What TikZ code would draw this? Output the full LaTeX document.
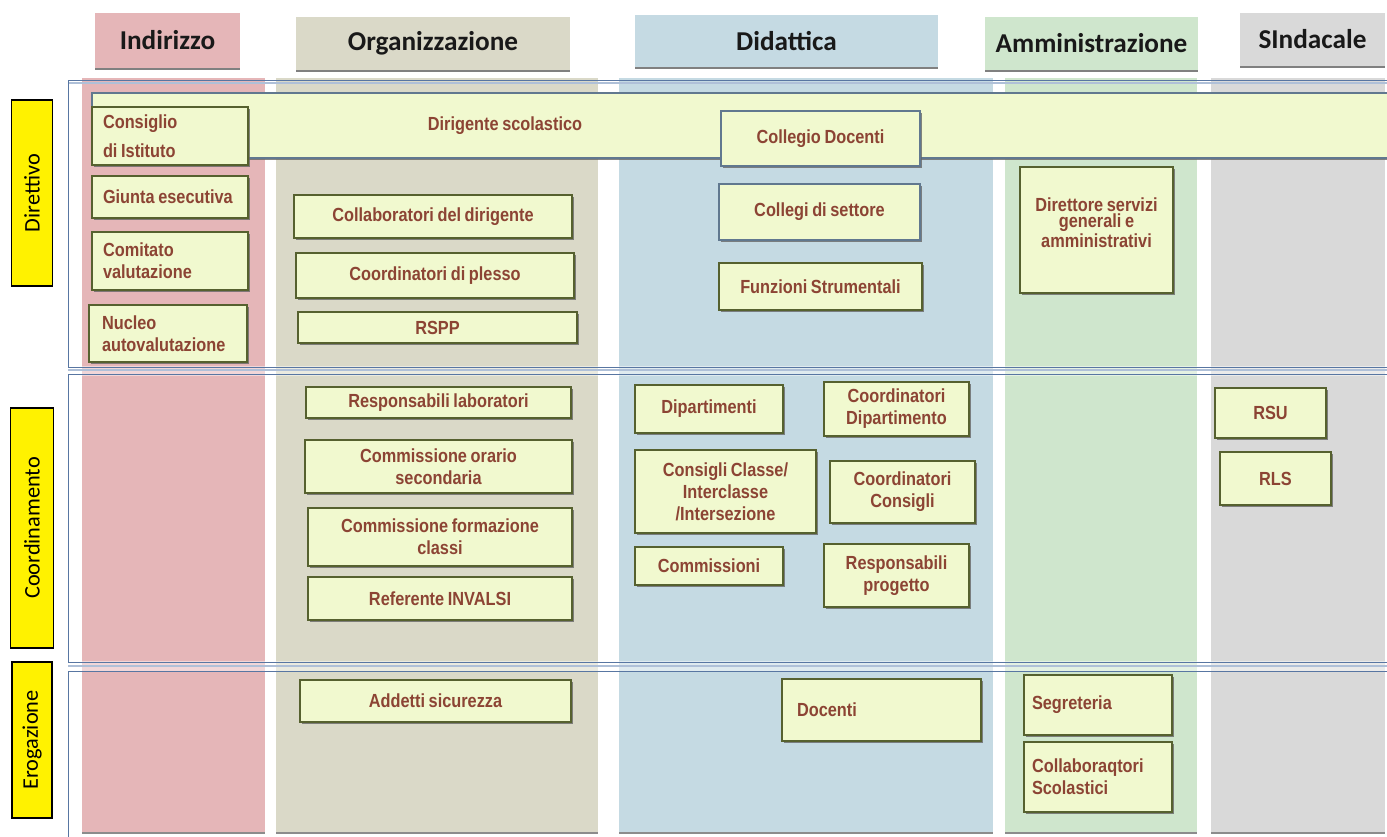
\documentclass[tikz,border=0pt]{standalone}
\usepackage{fontspec}
\setmainfont{Liberation Sans}
\newfontfamily\narrowfont[FakeStretch=0.86, WordSpace=0.8]{Liberation Sans}
\newfontfamily\headfont{Carlito}
\usepackage{tikz}
\usetikzlibrary{shapes,arrows,positioning,shadows}
\usepackage{color}

\definecolor{indirizzo}{HTML}{E5B6B8}
\definecolor{organizz}{HTML}{DAD9C8}
\definecolor{didattica}{HTML}{C5DAE3}
\definecolor{ammin}{HTML}{CFE6CD}
\definecolor{sindacale}{HTML}{D9D9D9}
\definecolor{boxfill}{HTML}{F1F9CF}
\definecolor{boxline}{HTML}{56612F}
\definecolor{bandline}{HTML}{61788F}
\definecolor{boxtext}{HTML}{8C4434}
\definecolor{frameline}{HTML}{5876A2}
\definecolor{framelight}{HTML}{AFC0D8}

\tikzset{
  stripe/.style={drop shadow={shadow xshift=0pt, shadow yshift=-1.2pt, fill=black!45, opacity=1}},
  header/.style={rectangle, inner sep=0pt, text=black!90,
    font=\headfont\bfseries\fontsize{15.5}{18}\selectfont,
    drop shadow={shadow xshift=0pt, shadow yshift=-1.4pt, fill=black!50, opacity=1}},
  level/.style={rectangle, draw=black, line width=0.9pt, fill=yellow, rotate=90,
    inner sep=0pt, font=\headfont\fontsize{12.7}{15}\selectfont},
  box/.style={rectangle, draw=boxline, line width=0.8pt, fill=boxfill, inner sep=0pt,
    text=boxtext, align=center, font=\narrowfont\bfseries\fontsize{10.8}{12.6}\selectfont,
    drop shadow={shadow xshift=1.1pt, shadow yshift=-1.1pt, fill=black!60, opacity=0.8}},
  leftbox/.style={box, align=flush left},
  boxlabel/.style={text=boxtext, inner sep=0pt, align=center,
    font=\narrowfont\bfseries\fontsize{10.8}{12.6}\selectfont},
  frame/.style={draw=frameline, line width=0.5pt},
  seam/.style={draw=framelight, line width=0.8pt},
}

\begin{document}
\begin{tikzpicture}[x=0.02cm, y=-0.02cm]
                   % Sizes
                   \pgfmathsetmacro{\edge}{1400}
                   \useasboundingbox (0,0) rectangle (1387,837);

                   % stripes
                   \fill[stripe, indirizzo] (82,78) rectangle (265,832);
                   \fill[stripe, organizz] (276,78) rectangle (598,832);
                   \fill[stripe, didattica] (619,78) rectangle (993,832);
                   \fill[stripe, ammin] (1005,78) rectangle (1197,832);
                   \fill[stripe, sindacale] (1211,78) rectangle (1385,832);

                   % frames
                   \fill[white, opacity=0.45] (68,366) rectangle (\edge,376);
                   \fill[white, opacity=0.45] (68,661) rectangle (\edge,672);
                   \draw[seam] (68,83) -- (\edge,83);
                   \draw[seam] (68,370) -- (\edge,370);
                   \draw[seam] (68,666) -- (\edge,666);
                   \draw[frame] (68,80) rectangle (\edge,367);
                   \draw[frame] (68,374) rectangle (\edge,662);
                   \draw[frame] (68,671) rectangle (\edge,870);

                   % headers
                   \node[header, fill=indirizzo, minimum width=2.9cm, minimum height=1.1cm] (hind) at (167.5,40.5) {Indirizzo};
                   \node[header, fill=organizz, minimum width=5.48cm, minimum height=1.06cm] (horg) at (433,43.5) {Organizzazione};
                   \node[header, fill=didattica, minimum width=6.06cm, minimum height=1.04cm] (hdid) at (786.5,41) {Didattica};
                   \node[header, fill=ammin, minimum width=4.26cm, minimum height=1.06cm] (hamm) at (1091.5,43.5) {Amministrazione};
                   \node[header, fill=sindacale, minimum width=2.9cm, minimum height=1.06cm] (hsin) at (1312.5,39.5) {SIndacale};

                   % levels
                   \node[level, minimum width=3.72cm, minimum height=0.82cm] (ldir) at (32,193) {Direttivo};
                   \node[level, minimum width=4.8cm, minimum height=0.86cm] (lcoo) at (32,528) {Coordinamento};
                   \node[level, minimum width=3.12cm, minimum height=0.8cm] (lero) at (32,740) {Erogazione};

                   % dirigente
                   \node[box, draw=bandline, minimum width=26.16cm, minimum height=1.3cm] (band) at (746,125.5) {};
                   \node[boxlabel] (dirig) at (505,126) {Dirigente scolastico};

                   % indirizzo
                   \node[leftbox, text width=2.68cm, minimum width=3.12cm, minimum height=1.16cm] (consiglio) at (170,136) {Consiglio\\[4pt]di Istituto};
                   \node[leftbox, text width=2.68cm, minimum width=3.12cm, minimum height=0.84cm] (giunta) at (170,197) {Giunta esecutiva};
                   \node[leftbox, text width=2.68cm, minimum width=3.12cm, minimum height=1.16cm] (comitato) at (170,261) {Comitato\\valutazione};
                   \node[leftbox, text width=2.64cm, minimum width=3.16cm, minimum height=1.14cm] (nucleo) at (168,333.5) {Nucleo\\autovalutazione};

                   % organizzazione
                   \node[box, minimum width=5.56cm, minimum height=0.86cm] (collab) at (433,216.5) {Collaboratori del dirigente};
                   \node[box, minimum width=5.56cm, minimum height=0.9cm] (plesso) at (435,275.5) {Coordinatori di plesso};
                   \node[box, minimum width=5.58cm, minimum height=0.62cm] (rspp) at (437.5,327.5) {RSPP};
                   \node[box, minimum width=5.3cm, minimum height=0.62cm] (labor) at (438.5,402.5) {Responsabili laboratori};
                   \node[box, minimum width=5.34cm, minimum height=1.06cm] (orario) at (438.5,466.5) {Commissione orario\\secondaria};
                   \node[box, minimum width=5.28cm, minimum height=1.16cm] (formaz) at (440,537) {Commissione formazione\\classi};
                   \node[box, minimum width=5.28cm, minimum height=0.86cm] (invalsi) at (440,598.5) {Referente INVALSI};
                   \node[box, minimum width=5.42cm, minimum height=0.84cm] (addetti) at (435.5,701) {Addetti sicurezza};

                   % didattica
                   \node[box, draw=bandline, minimum width=3.98cm, minimum height=1.1cm] (collegio) at (820.5,138.5) {Collegio Docenti};
                   \node[box, draw=bandline, minimum width=4.02cm, minimum height=1.12cm] (settore) at (819.5,212) {Collegi di settore};
                   \node[box, minimum width=4.06cm, minimum height=0.94cm] (funzioni) at (820.5,286.5) {Funzioni Strumentali};
                   \node[box, minimum width=2.96cm, minimum height=0.96cm] (dipart) at (709,409) {Dipartimenti};
                   \node[box, minimum width=2.9cm, minimum height=1.08cm] (coordip) at (896.5,409) {Coordinatori\\Dipartimento};
                   \node[box, minimum width=3.62cm, minimum height=1.66cm] (consigli) at (725.5,491.5) {Consigli Classe/\\Interclasse\\/Intersezione};
                   \node[box, minimum width=2.9cm, minimum height=1.24cm] (coorcons) at (902.5,492) {Coordinatori\\Consigli};
                   \node[box, minimum width=2.96cm, minimum height=0.76cm] (commiss) at (709,566) {Commissioni};
                   \node[box, minimum width=2.9cm, minimum height=1.26cm] (progetto) at (896.5,575.5) {Responsabili\\progetto};
                   \node[leftbox, text width=3.38cm, minimum width=3.98cm, minimum height=1.24cm] (docenti) at (881.5,710) {Docenti};

                   % amministrazione
                   \node[box, minimum width=3.06cm, minimum height=2.52cm] (dsga) at (1096.5,230) {};
                   \node[boxlabel, font=\narrowfont\bfseries\fontsize{10.8}{9.4}\selectfont, below=0.62cm of dsga.north] (dsgatext) {Direttore servizi\\generali e\\amministrativi};
                   \node[leftbox, text width=2.64cm, minimum width=2.96cm, minimum height=1.2cm] (segret) at (1098,705) {Segreteria};
                   \node[leftbox, text width=2.64cm, minimum width=2.96cm, minimum height=1.4cm] (scolast) at (1098,777) {Collaboraqtori\\Scolastici};

                   % sindacale
                   \node[box, minimum width=2.22cm, minimum height=1.0cm] (rsu) at (1270.5,413) {RSU};
                   \node[box, minimum width=2.22cm, minimum height=1.06cm] (rls) at (1275.5,478.5) {RLS};
\end{tikzpicture}
\end{document}
